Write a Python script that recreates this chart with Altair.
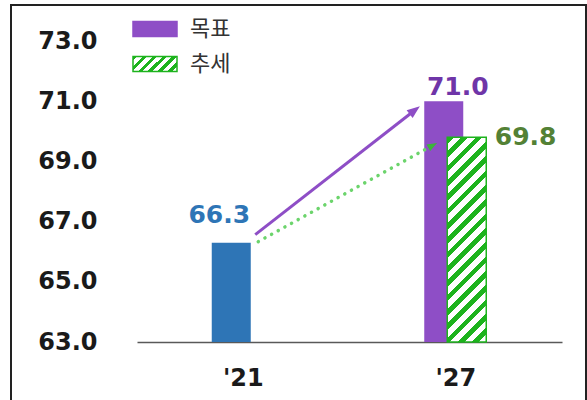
import json
import altair as alt
import pandas as pd

# ---- data ----
years = ["'21", "'27", "'27"]
series = ["실적", "목표", "추세"]
values = [66.3, 71.0, 69.8]
y_ticks = [63.0, 65.0, 67.0, 69.0, 71.0, 73.0]
legend_labels = ["목표", "추세"]

BLUE = "#2E75B6"
PURPLE = "#8E4EC6"
GREEN = "#1DB31D"

df = pd.DataFrame({"year": years, "series": series, "value": values})
arrows = pd.DataFrame({
    "from_year": [years[0], years[0]],
    "to_year": [years[1], years[2]],
    "from_val": [values[0], values[0]],
    "to_val": [values[1], values[2]],
    "kind": [series[1], series[2]],
})


def stripes(n, frac, x2, y2, c1, c2):
    stops = []
    for i in range(n):
        a = i / n
        b = (i + frac) / n
        c = (i + 1) / n
        stops += [
            {"offset": a, "color": c1},
            {"offset": b, "color": c1},
            {"offset": b, "color": c2},
            {"offset": c, "color": c2},
        ]
    return {"gradient": "linear", "x1": 0, "y1": 0, "x2": x2, "y2": y2, "stops": stops}


bar_grad = stripes(17, 0.45, 0.219, 1.149, GREEN, "#FFFFFF")
leg_grad = stripes(6, 0.45, 1.201, 0.41, GREEN, "#FFFFFF")

xscale = alt.Scale(domain=[years[0], years[1]], paddingInner=0, paddingOuter=0)
yscale = alt.Scale(domain=[y_ticks[0], y_ticks[-1]], nice=False, zero=False)

X = alt.X("year:N", scale=xscale, axis=alt.Axis(
    title=None, labelAngle=0, ticks=False, grid=False,
    labelFont="DejaVu Sans", labelFontWeight="bold", labelFontSize=24,
    labelColor="#1a1a1a", labelPadding=24, domainColor="#595959", domainWidth=1.5))
Y = alt.Y("value:Q", scale=yscale, axis=alt.Axis(
    title=None, values=y_ticks, format=".1f", ticks=False, grid=False, domain=False,
    labelFont="DejaVu Sans", labelFontWeight="bold", labelFontSize=24,
    labelColor="#1a1a1a", labelPadding=40))
Y2 = alt.datum(y_ticks[0])

legend = alt.Legend(
    title=None, values=legend_labels, orient="none", legendX=-5, legendY=-35,
    direction="vertical", padding=0, rowPadding=1, labelOffset=12,
    labelFont="Noto Sans CJK KR", labelFontSize=22, labelColor="#333333",
    symbolType="M-1,-0.34H1V0.34H-1Z", symbolSize=1936, symbolStrokeWidth=1.5,
    symbolOpacity=1)

base = alt.Chart(df)

frame = alt.Chart(pd.DataFrame({"k": [0]})).mark_rect(
    fill="white", fillOpacity=0, stroke="#222222", strokeWidth=2
).encode(x=alt.value(-126), x2=alt.value(449), y=alt.value(-36), y2=alt.value(370))

bars_a = base.transform_filter(
    alt.FieldOneOfPredicate(field="series", oneOf=[series[0], series[1]])
).mark_bar(width=39, xOffset=-12, strokeWidth=0).encode(
    x=X, y=Y, y2=Y2,
    color=alt.Color("series:N", scale=alt.Scale(
        domain=series, range=[BLUE, PURPLE, {"expr": json.dumps(leg_grad)}]), legend=legend),
    stroke=alt.Stroke("series:N", scale=alt.Scale(
        domain=series, range=[BLUE, PURPLE, GREEN]), legend=legend),
)

bars_b = base.transform_filter(
    alt.FieldEqualPredicate(field="series", equal=series[2])
).mark_bar(width=39, xOffset=11, fill=bar_grad, stroke=GREEN, strokeWidth=1.5).encode(
    x=X, y=Y, y2=Y2)

ar = alt.Chart(arrows)
line_p = ar.transform_filter(alt.datum.kind == series[1]).mark_rule(
    color=PURPLE, strokeWidth=3, xOffset=12, yOffset=-8, x2Offset=-41, y2Offset=9
).encode(x=alt.X("from_year:N", scale=xscale), x2="to_year:N",
         y=alt.Y("from_val:Q", scale=yscale), y2="to_val:Q")
head_p = ar.transform_filter(alt.datum.kind == series[1]).mark_point(
    shape="M0,-1L0.75,1L-0.75,1Z", filled=True, opacity=1, color=PURPLE,
    size=169, angle=52, xOffset=-41, yOffset=9
).encode(x=alt.X("to_year:N", scale=xscale), y=alt.Y("to_val:Q", scale=yscale))

line_g = ar.transform_filter(alt.datum.kind == series[2]).mark_rule(
    color="#6CD46C", strokeWidth=3.5, strokeCap="round", strokeDash=[0.1, 7.5],
    xOffset=15, yOffset=-1, x2Offset=-23, y2Offset=8
).encode(x=alt.X("from_year:N", scale=xscale), x2="to_year:N",
         y=alt.Y("from_val:Q", scale=yscale), y2="to_val:Q")
head_g = ar.transform_filter(alt.datum.kind == series[2]).mark_point(
    shape="M0,-1L0.75,1L-0.75,1Z", filled=True, opacity=1, color="#3CB43C",
    size=100, angle=61, xOffset=-23, yOffset=8
).encode(x=alt.X("to_year:N", scale=xscale), y=alt.Y("to_val:Q", scale=yscale))

tfont = dict(font="DejaVu Sans", fontWeight="bold", fontSize=25, baseline="alphabetic")
lab_a = base.transform_filter(alt.datum.series == series[0]).mark_text(
    color=BLUE, align="center", dx=-24, dy=-20, **tfont
).encode(x=X, y=Y, text=alt.Text("value:Q", format=".1f"))
lab_b = base.transform_filter(alt.datum.series == series[1]).mark_text(
    color="#6F35A8", align="center", dx=2, dy=-6, **tfont
).encode(x=X, y=Y, text=alt.Text("value:Q", format=".1f"))
lab_c = base.transform_filter(alt.datum.series == series[2]).mark_text(
    color="#538135", align="left", dx=39, dy=8, **tfont
).encode(x=X, y=Y, text=alt.Text("value:Q", format=".1f"))

chart = alt.layer(
    frame, bars_a, bars_b, line_p, head_p, line_g, head_g, lab_a, lab_b, lab_c
).properties(
    width=425, height=301,
    autosize=alt.AutoSizeParams(type="none"),
    padding={"left": 137, "top": 41, "right": 25, "bottom": 58},
    background="white",
).configure(font="DejaVu Sans", view=alt.ViewConfig(stroke="transparent"))

chart.save("out.html", embed_options={"renderer": "svg", "actions": False})
